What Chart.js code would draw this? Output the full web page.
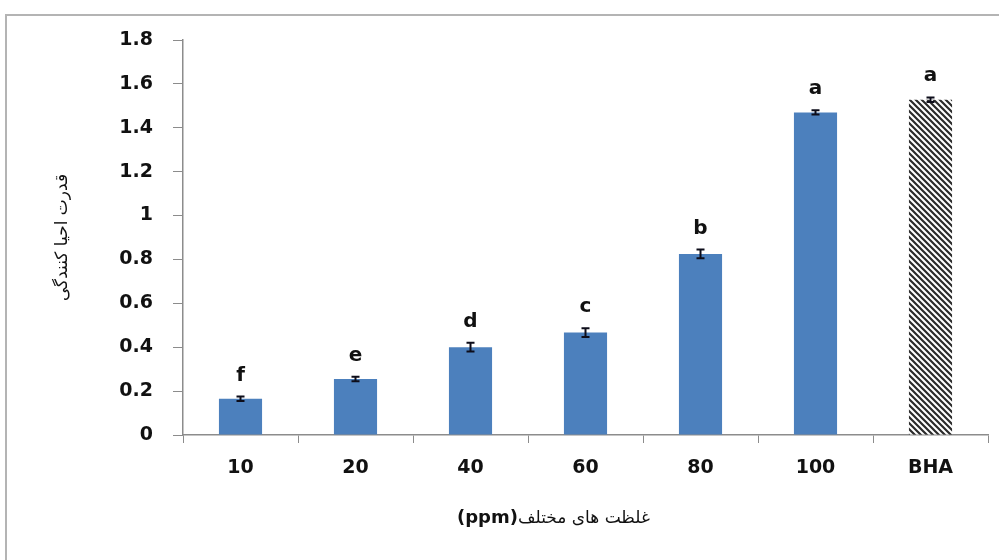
<!DOCTYPE html>
<html>
<head>
<meta charset="utf-8">
<script src="https://cdn.jsdelivr.net/npm/chart.js@4.4.1/dist/chart.umd.min.js"></script>
<style>
    html, body { margin: 0; background: #fff; overflow: hidden; }
    #frame { position: absolute; left: 5px; top: 14px; width: 992px; height: 544px; border-left: 2px solid #b4b4b4; border-top: 2px solid #b4b4b4; }
    #wrap { position: absolute; left: 0; top: 0; width: 999px; height: 560px; }
</style>
</head>
<body>
<div id="frame"></div>
<div id="wrap"><canvas id="chart" width="999" height="560"></canvas></div>
<script>
// Data
const concentrations = ['10', '20', '40', '60', '80', '100', 'BHA'];
const reducingPower = [0.165, 0.255, 0.40, 0.467, 0.825, 1.47, 1.528];
const errors = [0.01, 0.01, 0.02, 0.02, 0.02, 0.01, 0.01];
const letters = ['f', 'e', 'd', 'c', 'b', 'a', 'a'];
const yTicks = [0, 0.2, 0.4, 0.6, 0.8, 1, 1.2, 1.4, 1.6, 1.8];

const yTitle = 'قدرت احیا کنندگی';
const xTitleAr = 'غلظت های مختلف';
const xTitleUnit = '(ppm)';

// Hatch pattern for the BHA control bar
function makeHatch() {
    const size = 6;
    const c = document.createElement('canvas');
    c.width = size;
    c.height = size;
    const ctx = c.getContext('2d');
    ctx.fillStyle = '#ffffff';
    ctx.fillRect(0, 0, size, size);
    ctx.strokeStyle = '#2b2b2b';
    ctx.lineWidth = 2.2;
    ctx.beginPath();
    ctx.moveTo(-1, -1); ctx.lineTo(size + 1, size + 1);
    ctx.moveTo(-1, size - 1); ctx.lineTo(1, size + 1);
    ctx.moveTo(size - 1, -1); ctx.lineTo(size + 1, 1);
    ctx.stroke();
    return ctx.createPattern(c, 'repeat');
}

const blue = '#4C80BD';
const hatch = makeHatch();
const barColors = concentrations.map(c => c === 'BHA' ? hatch : blue);

// Error bars + significance letters
const errorBarPlugin = {
    id: 'errorBars',
    afterDatasetsDraw(chart) {
        const ctx = chart.ctx;
        const y = chart.scales.y;
        const meta = chart.getDatasetMeta(0);
        ctx.save();
        meta.data.forEach((bar, i) => {
            const v = reducingPower[i];
            const top = y.getPixelForValue(v + errors[i]);
            const bottom = y.getPixelForValue(v - errors[i]);
            ctx.strokeStyle = '#0d0d1a';
            ctx.lineWidth = 2;
            ctx.beginPath();
            ctx.moveTo(bar.x, top); ctx.lineTo(bar.x, bottom);
            ctx.moveTo(bar.x - 4, top); ctx.lineTo(bar.x + 4, top);
            ctx.moveTo(bar.x - 4, bottom); ctx.lineTo(bar.x + 4, bottom);
            ctx.stroke();

            ctx.fillStyle = '#111';
            ctx.font = 'bold 20px "DejaVu Sans"';
            ctx.textAlign = 'center';
            ctx.textBaseline = 'alphabetic';
            ctx.fillText(letters[i], bar.x, top - 16);
        });
        ctx.restore();
    }
};

// X axis title: regular Arabic text with a bold unit
const xTitlePlugin = {
    id: 'xTitle',
    afterDraw(chart) {
        const ctx = chart.ctx;
        ctx.save();
        ctx.fillStyle = '#111';
        ctx.textBaseline = 'middle';
        ctx.textAlign = 'left';
        ctx.font = 'bold 18px "DejaVu Sans"';
        const unitW = ctx.measureText(xTitleUnit).width;
        const x0 = 457;
        ctx.fillText(xTitleUnit, x0, 518);
        ctx.font = '17px "DejaVu Sans"';
        ctx.fillText(xTitleAr, x0 + unitW, 519);
        ctx.restore();
    }
};

new Chart(document.getElementById('chart'), {
    type: 'bar',
    data: {
        labels: concentrations,
        datasets: [{
            data: reducingPower,
            backgroundColor: barColors,
            borderWidth: 0,
            barPercentage: 0.375,
            categoryPercentage: 1
        }]
    },
    options: {
        responsive: false,
        animation: false,
        layout: { padding: { left: 40, right: 11, top: 40, bottom: 0 } },
        plugins: {
            legend: { display: false },
            tooltip: { enabled: false }
        },
        scales: {
            x: {
                afterFit: s => { s.height = 125; },
                grid: { drawOnChartArea: false, tickLength: 8, color: '#8c8c8c', offset: true },
                border: { color: '#8c8c8c', width: 1.5 },
                ticks: {
                    color: '#111',
                    padding: 14,
                    font: { family: 'DejaVu Sans', size: 19, weight: 'bold' }
                }
            },
            y: {
                min: 0,
                max: 1.8,
                afterFit: s => { s.width = 143; },
                afterBuildTicks: s => { s.ticks = yTicks.map(v => ({ value: v })); },
                grid: { drawOnChartArea: false, tickLength: 10, color: '#8c8c8c' },
                border: { color: '#8c8c8c', width: 1.5 },
                ticks: {
                    color: '#111',
                    padding: 20,
                    font: { family: 'DejaVu Sans', size: 19, weight: 'bold' },
                    callback: v => String(v)
                },
                title: {
                    display: true,
                    text: yTitle,
                    color: '#111',
                    padding: { top: 12, bottom: 0 },
                    font: { family: 'DejaVu Sans', size: 17 }
                }
            }
        }
    },
    plugins: [errorBarPlugin, xTitlePlugin]
});
</script>
</body>
</html>
